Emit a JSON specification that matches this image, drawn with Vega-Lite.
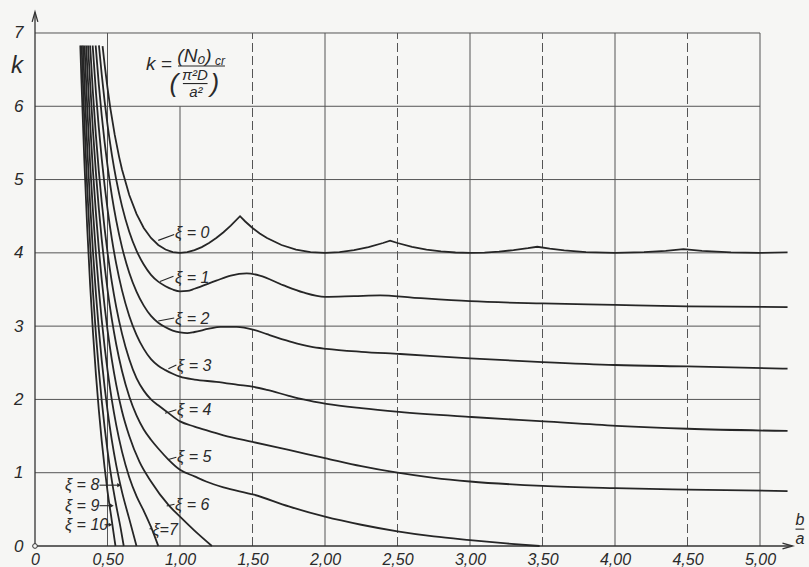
{
  "$schema": "https://vega.github.io/schema/vega-lite/v6.json",
  "width": 768.5,
  "height": 535,
  "autosize": {"type": "none"},
  "padding": {"left": 35, "top": 11, "right": 6, "bottom": 21},
  "background": "#f6f6f4",
  "config": {"view": {"stroke": null}, "text": {"font": "Liberation Sans", "fontStyle": "italic", "color": "#2a2a2a"}},
  "datasets": {
    "curves": [
      {"xi":0,"x":0.466,"k":6.82},{"xi":0,"x":0.48,"k":6.571},{"xi":0,"x":0.5,"k":6.25},{"xi":0,"x":0.52,"k":5.969},{"xi":0,"x":0.55,"k":5.609},{"xi":0,"x":0.58,"k":5.31},{"xi":0,"x":0.6,"k":5.138},{"xi":0,"x":0.65,"k":4.789},{"xi":0,"x":0.7,"k":4.531},{"xi":0,"x":0.75,"k":4.34},{"xi":0,"x":0.8,"k":4.2025},{"xi":0,"x":0.85,"k":4.107},{"xi":0,"x":0.9,"k":4.045},{"xi":0,"x":0.95,"k":4.0105},{"xi":0,"x":1.0,"k":4.0},{"xi":0,"x":1.05,"k":4.0095},{"xi":0,"x":1.1,"k":4.0365},{"xi":0,"x":1.15,"k":4.0787},{"xi":0,"x":1.2,"k":4.1344},{"xi":0,"x":1.25,"k":4.2025},{"xi":0,"x":1.3,"k":4.2817},{"xi":0,"x":1.35,"k":4.3712},{"xi":0,"x":1.414,"k":4.5},{"xi":0,"x":1.45,"k":4.428},{"xi":0,"x":1.5,"k":4.34},{"xi":0,"x":1.55,"k":4.265},{"xi":0,"x":1.6,"k":4.2025},{"xi":0,"x":1.7,"k":4.107},{"xi":0,"x":1.8,"k":4.045},{"xi":0,"x":1.9,"k":4.0105},{"xi":0,"x":2.0,"k":4.0},{"xi":0,"x":2.1,"k":4.0095},{"xi":0,"x":2.2,"k":4.0365},{"xi":0,"x":2.3,"k":4.0787},{"xi":0,"x":2.4,"k":4.1344},{"xi":0,"x":2.449,"k":4.1667},{"xi":0,"x":2.5,"k":4.1344},{"xi":0,"x":2.6,"k":4.0825},{"xi":0,"x":2.7,"k":4.045},{"xi":0,"x":2.8,"k":4.019},{"xi":0,"x":2.9,"k":4.0047},{"xi":0,"x":3.0,"k":4.0},{"xi":0,"x":3.1,"k":4.004},{"xi":0,"x":3.2,"k":4.0167},{"xi":0,"x":3.3,"k":4.0365},{"xi":0,"x":3.4,"k":4.063},{"xi":0,"x":3.464,"k":4.0833},{"xi":0,"x":3.55,"k":4.0573},{"xi":0,"x":3.65,"k":4.0337},{"xi":0,"x":3.8,"k":4.0105},{"xi":0,"x":4.0,"k":4.0},{"xi":0,"x":4.2,"k":4.0095},{"xi":0,"x":4.35,"k":4.028},{"xi":0,"x":4.472,"k":4.05},{"xi":0,"x":4.6,"k":4.028},{"xi":0,"x":4.8,"k":4.0067},{"xi":0,"x":5.0,"k":4.0},{"xi":0,"x":5.19,"k":4.0056},
      {"xi":1,"x":0.441,"k":6.83},{"xi":1,"x":0.46,"k":6.437},{"xi":1,"x":0.48,"k":6.071},{"xi":1,"x":0.5,"k":5.75},{"xi":1,"x":0.53,"k":5.341},{"xi":1,"x":0.56,"k":5.003},{"xi":1,"x":0.6,"k":4.638},{"xi":1,"x":0.65,"k":4.289},{"xi":1,"x":0.7,"k":4.031},{"xi":1,"x":0.75,"k":3.84},{"xi":1,"x":0.8,"k":3.7},{"xi":1,"x":0.85,"k":3.607},{"xi":1,"x":0.9,"k":3.545},{"xi":1,"x":0.95,"k":3.5},{"xi":1,"x":1.0,"k":3.475},{"xi":1,"x":1.05,"k":3.48},{"xi":1,"x":1.1,"k":3.51},{"xi":1,"x":1.25,"k":3.62},{"xi":1,"x":1.35,"k":3.69},{"xi":1,"x":1.46,"k":3.72},{"xi":1,"x":1.55,"k":3.69},{"xi":1,"x":1.71,"k":3.56},{"xi":1,"x":1.85,"k":3.46},{"xi":1,"x":2.0,"k":3.4},{"xi":1,"x":2.2,"k":3.41},{"xi":1,"x":2.38,"k":3.42},{"xi":1,"x":2.6,"k":3.39},{"xi":1,"x":3.0,"k":3.34},{"xi":1,"x":3.5,"k":3.31},{"xi":1,"x":4.0,"k":3.29},{"xi":1,"x":4.5,"k":3.27},{"xi":1,"x":5.19,"k":3.26},
      {"xi":2,"x":0.4183,"k":6.83},{"xi":2,"x":0.44,"k":6.299},{"xi":2,"x":0.46,"k":5.877},{"xi":2,"x":0.48,"k":5.511},{"xi":2,"x":0.5,"k":5.19},{"xi":2,"x":0.53,"k":4.781},{"xi":2,"x":0.56,"k":4.443},{"xi":2,"x":0.6,"k":4.078},{"xi":2,"x":0.65,"k":3.729},{"xi":2,"x":0.7,"k":3.471},{"xi":2,"x":0.75,"k":3.28},{"xi":2,"x":0.8,"k":3.14},{"xi":2,"x":0.85,"k":3.047},{"xi":2,"x":0.9,"k":2.985},{"xi":2,"x":0.95,"k":2.94},{"xi":2,"x":1.0,"k":2.915},{"xi":2,"x":1.05,"k":2.905},{"xi":2,"x":1.1,"k":2.92},{"xi":2,"x":1.2,"k":2.965},{"xi":2,"x":1.28,"k":2.99},{"xi":2,"x":1.39,"k":2.99},{"xi":2,"x":1.51,"k":2.95},{"xi":2,"x":1.6,"k":2.89},{"xi":2,"x":1.76,"k":2.79},{"xi":2,"x":1.9,"k":2.72},{"xi":2,"x":2.01,"k":2.69},{"xi":2,"x":2.25,"k":2.65},{"xi":2,"x":2.52,"k":2.62},{"xi":2,"x":3.0,"k":2.56},{"xi":2,"x":3.5,"k":2.51},{"xi":2,"x":4.0,"k":2.47},{"xi":2,"x":4.5,"k":2.45},{"xi":2,"x":5.19,"k":2.42},
      {"xi":3,"x":0.3977,"k":6.83},{"xi":3,"x":0.42,"k":6.195},{"xi":3,"x":0.44,"k":5.709},{"xi":3,"x":0.46,"k":5.287},{"xi":3,"x":0.48,"k":4.921},{"xi":3,"x":0.5,"k":4.6},{"xi":3,"x":0.53,"k":4.191},{"xi":3,"x":0.56,"k":3.853},{"xi":3,"x":0.6,"k":3.488},{"xi":3,"x":0.65,"k":3.139},{"xi":3,"x":0.7,"k":2.881},{"xi":3,"x":0.75,"k":2.69},{"xi":3,"x":0.8,"k":2.55},{"xi":3,"x":0.85,"k":2.46},{"xi":3,"x":0.9,"k":2.4},{"xi":3,"x":0.95,"k":2.35},{"xi":3,"x":1.0,"k":2.31},{"xi":3,"x":1.1,"k":2.27},{"xi":3,"x":1.25,"k":2.24},{"xi":3,"x":1.4,"k":2.2},{"xi":3,"x":1.51,"k":2.17},{"xi":3,"x":1.6,"k":2.13},{"xi":3,"x":1.75,"k":2.05},{"xi":3,"x":1.85,"k":2.0},{"xi":3,"x":2.01,"k":1.94},{"xi":3,"x":2.25,"k":1.88},{"xi":3,"x":2.51,"k":1.83},{"xi":3,"x":3.01,"k":1.76},{"xi":3,"x":3.51,"k":1.7},{"xi":3,"x":4.01,"k":1.64},{"xi":3,"x":4.5,"k":1.6},{"xi":3,"x":5.19,"k":1.57},
      {"xi":4,"x":0.38,"k":6.83},{"xi":4,"x":0.4,"k":6.17},{"xi":4,"x":0.42,"k":5.605},{"xi":4,"x":0.44,"k":5.119},{"xi":4,"x":0.46,"k":4.697},{"xi":4,"x":0.48,"k":4.331},{"xi":4,"x":0.5,"k":4.01},{"xi":4,"x":0.53,"k":3.601},{"xi":4,"x":0.56,"k":3.263},{"xi":4,"x":0.6,"k":2.898},{"xi":4,"x":0.65,"k":2.549},{"xi":4,"x":0.7,"k":2.29},{"xi":4,"x":0.75,"k":2.12},{"xi":4,"x":0.8,"k":2.0},{"xi":4,"x":0.85,"k":1.92},{"xi":4,"x":0.91,"k":1.83},{"xi":4,"x":1.0,"k":1.7},{"xi":4,"x":1.1,"k":1.63},{"xi":4,"x":1.18,"k":1.58},{"xi":4,"x":1.3,"k":1.51},{"xi":4,"x":1.5,"k":1.42},{"xi":4,"x":1.75,"k":1.31},{"xi":4,"x":2.0,"k":1.2},{"xi":4,"x":2.25,"k":1.09},{"xi":4,"x":2.5,"k":1.0},{"xi":4,"x":2.75,"k":0.93},{"xi":4,"x":3.0,"k":0.88},{"xi":4,"x":3.5,"k":0.82},{"xi":4,"x":4.0,"k":0.79},{"xi":4,"x":4.5,"k":0.77},{"xi":4,"x":5.19,"k":0.75},
      {"xi":5,"x":0.366,"k":6.83},{"xi":5,"x":0.38,"k":6.32},{"xi":5,"x":0.4,"k":5.66},{"xi":5,"x":0.42,"k":5.095},{"xi":5,"x":0.44,"k":4.609},{"xi":5,"x":0.46,"k":4.187},{"xi":5,"x":0.48,"k":3.821},{"xi":5,"x":0.5,"k":3.5},{"xi":5,"x":0.53,"k":3.091},{"xi":5,"x":0.56,"k":2.753},{"xi":5,"x":0.6,"k":2.388},{"xi":5,"x":0.65,"k":2.039},{"xi":5,"x":0.7,"k":1.781},{"xi":5,"x":0.75,"k":1.59},{"xi":5,"x":0.8,"k":1.45},{"xi":5,"x":0.85,"k":1.33},{"xi":5,"x":0.92,"k":1.18},{"xi":5,"x":1.0,"k":1.04},{"xi":5,"x":1.1,"k":0.95},{"xi":5,"x":1.18,"k":0.88},{"xi":5,"x":1.3,"k":0.8},{"xi":5,"x":1.51,"k":0.7},{"xi":5,"x":1.75,"k":0.54},{"xi":5,"x":2.0,"k":0.4},{"xi":5,"x":2.25,"k":0.29},{"xi":5,"x":2.5,"k":0.2},{"xi":5,"x":2.75,"k":0.13},{"xi":5,"x":3.0,"k":0.08},{"xi":5,"x":3.25,"k":0.035},{"xi":5,"x":3.48,"k":0.0},
      {"xi":6,"x":0.3535,"k":6.83},{"xi":6,"x":0.36,"k":6.546},{"xi":6,"x":0.38,"k":5.77},{"xi":6,"x":0.4,"k":5.11},{"xi":6,"x":0.42,"k":4.545},{"xi":6,"x":0.44,"k":4.059},{"xi":6,"x":0.46,"k":3.637},{"xi":6,"x":0.48,"k":3.271},{"xi":6,"x":0.5,"k":2.95},{"xi":6,"x":0.53,"k":2.541},{"xi":6,"x":0.56,"k":2.203},{"xi":6,"x":0.6,"k":1.838},{"xi":6,"x":0.65,"k":1.5},{"xi":6,"x":0.72,"k":1.15},{"xi":6,"x":0.8,"k":0.88},{"xi":6,"x":0.92,"k":0.56},{"xi":6,"x":1.0,"k":0.4},{"xi":6,"x":1.1,"k":0.21},{"xi":6,"x":1.22,"k":0.0},
      {"xi":7,"x":0.3416,"k":6.83},{"xi":7,"x":0.36,"k":5.996},{"xi":7,"x":0.38,"k":5.22},{"xi":7,"x":0.4,"k":4.56},{"xi":7,"x":0.42,"k":3.995},{"xi":7,"x":0.44,"k":3.509},{"xi":7,"x":0.46,"k":3.087},{"xi":7,"x":0.48,"k":2.721},{"xi":7,"x":0.5,"k":2.4},{"xi":7,"x":0.53,"k":1.991},{"xi":7,"x":0.56,"k":1.653},{"xi":7,"x":0.6,"k":1.288},{"xi":7,"x":0.65,"k":0.939},{"xi":7,"x":0.7,"k":0.681},{"xi":7,"x":0.75,"k":0.48},{"xi":7,"x":0.8,"k":0.26},{"xi":7,"x":0.85,"k":0.0},
      {"xi":8,"x":0.331,"k":6.83},{"xi":8,"x":0.34,"k":6.366},{"xi":8,"x":0.36,"k":5.446},{"xi":8,"x":0.38,"k":4.67},{"xi":8,"x":0.4,"k":4.01},{"xi":8,"x":0.42,"k":3.445},{"xi":8,"x":0.44,"k":2.959},{"xi":8,"x":0.46,"k":2.537},{"xi":8,"x":0.48,"k":2.171},{"xi":8,"x":0.5,"k":1.85},{"xi":8,"x":0.53,"k":1.441},{"xi":8,"x":0.56,"k":1.103},{"xi":8,"x":0.6,"k":0.738},{"xi":8,"x":0.65,"k":0.37},{"xi":8,"x":0.7,"k":0.0},
      {"xi":9,"x":0.3215,"k":6.83},{"xi":9,"x":0.34,"k":5.816},{"xi":9,"x":0.36,"k":4.896},{"xi":9,"x":0.38,"k":4.12},{"xi":9,"x":0.4,"k":3.46},{"xi":9,"x":0.42,"k":2.895},{"xi":9,"x":0.44,"k":2.409},{"xi":9,"x":0.46,"k":1.987},{"xi":9,"x":0.48,"k":1.621},{"xi":9,"x":0.5,"k":1.3},{"xi":9,"x":0.53,"k":0.891},{"xi":9,"x":0.56,"k":0.553},{"xi":9,"x":0.59,"k":0.25},{"xi":9,"x":0.612,"k":0.0},
      {"xi":10,"x":0.3125,"k":6.83},{"xi":10,"x":0.32,"k":6.368},{"xi":10,"x":0.34,"k":5.266},{"xi":10,"x":0.36,"k":4.346},{"xi":10,"x":0.38,"k":3.57},{"xi":10,"x":0.4,"k":2.91},{"xi":10,"x":0.42,"k":2.345},{"xi":10,"x":0.44,"k":1.859},{"xi":10,"x":0.46,"k":1.437},{"xi":10,"x":0.48,"k":1.071},{"xi":10,"x":0.5,"k":0.75},{"xi":10,"x":0.53,"k":0.341},{"xi":10,"x":0.555,"k":0.0}
    ],
    "vgrid": [
      {"x":0.5,"k":0,"k2":7,"s":"solid"},{"x":1,"k":0,"k2":6,"s":"solid"},{"x":1.5,"k":0,"k2":7,"s":"dashed"},{"x":2,"k":0,"k2":7,"s":"solid"},{"x":2.5,"k":0,"k2":7,"s":"dashed"},{"x":3,"k":0,"k2":7,"s":"solid"},{"x":3.5,"k":0,"k2":7,"s":"dashed"},{"x":4,"k":0,"k2":7,"s":"solid"},{"x":4.5,"k":0,"k2":7,"s":"dashed"},{"x":5,"k":0,"k2":7,"s":"solid"}
    ],
    "hgrid": [
      {"x":0,"x2":5,"k":1},{"x":0,"x2":5,"k":2},{"x":0,"x2":5,"k":3},{"x":0,"x2":5,"k":4},{"x":0,"x2":5,"k":5},{"x":0,"x2":5,"k":6},{"x":0,"x2":5,"k":7}
    ],
    "axes": [
      {"x":0,"x2":5.22,"k":0,"k2":0},{"x":0,"x2":0,"k":0,"k2":7.28}
    ],
    "labels": [
      {"x":0.966,"k":4.27,"t":"ξ = 0"},{"x":0.966,"k":3.66,"t":"ξ = 1"},{"x":0.966,"k":3.1,"t":"ξ = 2"},{"x":0.98,"k":2.46,"t":"ξ = 3"},{"x":0.98,"k":1.86,"t":"ξ = 4"},{"x":0.98,"k":1.21,"t":"ξ = 5"},{"x":0.966,"k":0.56,"t":"ξ = 6"},{"x":0.81,"k":0.22,"t":"ξ=7"},{"x":0.207,"k":0.83,"t":"ξ = 8"},{"x":0.207,"k":0.55,"t":"ξ = 9"},{"x":0.207,"k":0.29,"t":"ξ = 10"}
    ],
    "leaders": [
      {"x":0.85,"k":4.17,"x2":0.96,"k2":4.25},{"x":0.862,"k":3.61,"x2":0.955,"k2":3.68},{"x":0.85,"k":3.07,"x2":0.96,"k2":3.11},{"x":0.92,"k":2.42,"x2":0.975,"k2":2.47},{"x":0.897,"k":1.81,"x2":0.975,"k2":1.86},{"x":0.92,"k":1.18,"x2":0.975,"k2":1.21},{"x":0.908,"k":0.545,"x2":0.962,"k2":0.57},{"x":0.79,"k":0.235,"x2":0.806,"k2":0.235},{"x":0.445,"k":0.83,"x2":0.58,"k2":0.83},{"x":0.445,"k":0.55,"x2":0.53,"k2":0.55},{"x":0.48,"k":0.29,"x2":0.52,"k2":0.29}
    ],
    "arrowtips": [
      {"x":0.58,"k":0.83},{"x":0.53,"k":0.55},{"x":0.52,"k":0.29}
    ]
  },
  "encoding": {
    "x": {"field": "x", "type": "quantitative", "scale": {"domain": [0, 5.3], "nice": false, "zero": false},
      "axis": {"values": [0,0.5,1,1.5,2,2.5,3,3.5,4,4.5,5], "labelExpr": "datum.value == 0 ? '0' : replace(format(datum.value, '.2f'), '.', ',')", "domain": false, "ticks": false, "tickSize": 0, "grid": false, "title": null, "labelFont": "Liberation Sans", "labelFontStyle": "italic", "labelFontSize": 16, "labelColor": "#2a2a2a", "labelPadding": 5, "labelFlush": false, "labelOverlap": false}},
    "y": {"field": "k", "type": "quantitative", "scale": {"domain": [0, 7.3], "nice": false, "zero": false},
      "axis": {"values": [0,1,2,3,4,5,6,7], "format": "d", "domain": false, "ticks": false, "tickSize": 0, "grid": false, "title": null, "labelFont": "Liberation Sans", "labelFontStyle": "italic", "labelFontSize": 17, "labelColor": "#2a2a2a", "labelPadding": 12, "labelFlush": false, "labelOverlap": false}}
  },
  "layer": [
    {"data": {"name": "vgrid"}, "mark": {"type": "rule", "color": "#555", "strokeWidth": 1},
      "encoding": {"y2": {"field": "k2"}, "strokeDash": {"field": "s", "type": "nominal", "scale": {"domain": ["solid", "dashed"], "range": [[1, 0], [9, 4]]}, "legend": null}}},
    {"data": {"name": "hgrid"}, "mark": {"type": "rule", "color": "#555", "strokeWidth": 1},
      "encoding": {"x2": {"field": "x2"}}},
    {"data": {"name": "axes"}, "mark": {"type": "rule", "color": "#333", "strokeWidth": 1.3},
      "encoding": {"x2": {"field": "x2"}, "y2": {"field": "k2"}}},
    {"data": {"values": [{"x": 0, "k": 7.22}]}, "mark": {"type": "point", "shape": "M-0.45,0.8L0,-0.8L0.45,0.8", "filled": false, "size": 160, "stroke": "#333", "strokeWidth": 1.3, "opacity": 1}},
    {"data": {"values": [{"x": 5.19, "k": 0}]}, "mark": {"type": "point", "shape": "M-0.8,-0.45L0.8,0L-0.8,0.45", "filled": false, "size": 160, "stroke": "#333", "strokeWidth": 1.3, "opacity": 1}},
    {"data": {"values": [{"x": 0, "k": 0}]}, "mark": {"type": "point", "shape": "circle", "filled": true, "fill": "#f6f6f4", "size": 22, "stroke": "#333", "strokeWidth": 1, "opacity": 1}},
    {"data": {"name": "curves"}, "transform": [{"filter": "datum.xi == 0"}], "mark": {"type": "line", "interpolate": "linear", "color": "#262626", "strokeWidth": 1.8}},
    {"data": {"name": "curves"}, "transform": [{"filter": "datum.xi > 0"}], "mark": {"type": "line", "interpolate": "monotone", "color": "#262626", "strokeWidth": 1.8},
      "encoding": {"detail": {"field": "xi", "type": "nominal"}}},
    {"data": {"name": "leaders"}, "mark": {"type": "rule", "color": "#262626", "strokeWidth": 1.1},
      "encoding": {"x2": {"field": "x2"}, "y2": {"field": "k2"}}},
    {"data": {"name": "arrowtips"}, "mark": {"type": "point", "shape": "triangle-right", "filled": true, "size": 18, "color": "#262626", "opacity": 1}},
    {"data": {"name": "labels"}, "mark": {"type": "text", "align": "left", "baseline": "middle", "fontSize": 16},
      "encoding": {"text": {"field": "t"}}},
    {"data": {"values": [{"x": 0.855, "k": 6.58, "t": "k ="}, {"x": 1.1, "k": 6.68, "t": "(N₀)"}]}, "mark": {"type": "text", "align": "center", "baseline": "middle", "fontSize": 19},
      "encoding": {"text": {"field": "t"}}},
    {"data": {"values": [{"x": 1.275, "k": 6.62, "t": "cr"}]}, "mark": {"type": "text", "align": "center", "baseline": "middle", "fontSize": 12},
      "encoding": {"text": {"field": "t"}}},
    {"data": {"values": [{"x": 1.103, "k": 6.42, "t": "π²D"}, {"x": 1.11, "k": 6.2, "t": "a²"}]}, "mark": {"type": "text", "align": "center", "baseline": "middle", "fontSize": 15},
      "encoding": {"text": {"field": "t"}}},
    {"data": {"values": [{"x": 0.958, "k": 6.3, "t": "("}, {"x": 1.24, "k": 6.3, "t": ")"}]}, "mark": {"type": "text", "align": "center", "baseline": "middle", "fontSize": 26},
      "encoding": {"text": {"field": "t"}}},
    {"data": {"values": [{"x": 0.986, "x2": 1.31, "k": 6.55}, {"x": 1.02, "x2": 1.19, "k": 6.31}, {"x": 5.245, "x2": 5.305, "k": 0.23}]}, "mark": {"type": "rule", "color": "#262626", "strokeWidth": 1.1},
      "encoding": {"x2": {"field": "x2"}}},
    {"data": {"values": [{"x": -0.124, "k": 6.55, "t": "k"}]}, "mark": {"type": "text", "align": "center", "baseline": "middle", "fontSize": 24},
      "encoding": {"text": {"field": "t"}}},
    {"data": {"values": [{"x": 5.276, "k": 0.36, "t": "b"}, {"x": 5.276, "k": 0.1, "t": "a"}]}, "mark": {"type": "text", "align": "center", "baseline": "middle", "fontSize": 16},
      "encoding": {"text": {"field": "t"}}}
  ]
}
